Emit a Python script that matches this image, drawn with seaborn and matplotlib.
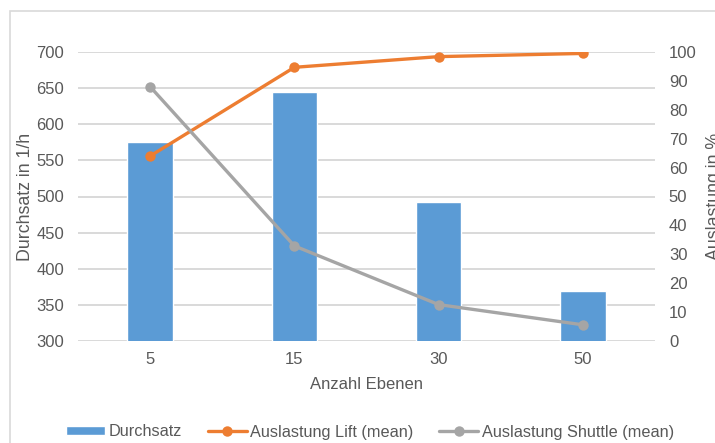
import matplotlib
matplotlib.use("Agg")
import matplotlib.pyplot as plt
import seaborn as sns
import pandas as pd
import numpy as np
from matplotlib.patches import Rectangle

# Anzahl Ebenen (categories)
ebenen = ["5", "15", "30", "50"]
# Durchsatz in 1/h (bars, left axis)
durchsatz = [575, 644, 493, 369]
# Auslastung in % (lines, right axis)
auslastung_lift = [64.0, 94.7, 98.4, 99.5]
auslastung_shuttle = [88.0, 32.9, 12.6, 5.6]

sns.set_theme(style="white")
plt.rcParams["font.family"] = ["Liberation Sans", "DejaVu Sans"]

text_color = "#595959"
grid_color = "#d9d9d9"
blue, orange, grey = "#5B9BD5", "#ED7D31", "#A5A5A5"
fs = 12

W, H = 715, 443
fig = plt.figure(figsize=(W / 100, H / 100), dpi=100)
fig.patch.set_facecolor("white")

# light frame around the chart area
fig.patches.append(Rectangle((10 / W, -0.05), 1.1, 1 - 11 / H + 0.05,
                             transform=fig.transFigure, fill=False,
                             edgecolor=grid_color, linewidth=1.2, zorder=0))

ax = fig.add_axes([78 / W, 1 - 341 / H, 577 / W, 289 / H])
df = pd.DataFrame({"Ebenen": ebenen, "Durchsatz": durchsatz,
                   "Lift": auslastung_lift, "Shuttle": auslastung_shuttle})

sns.barplot(data=df, x="Ebenen", y="Durchsatz", color=blue, saturation=1,
            width=0.314, ax=ax, label="Durchsatz", zorder=2)
ax.set_ylim(300, 700)
ax.set_yticks(np.arange(300, 701, 50))
ax.yaxis.grid(True, color=grid_color, linewidth=1.4, zorder=0)
ax.set_axisbelow(True)

ax2 = ax.twinx()
pos = np.arange(len(ebenen))
sns.lineplot(x=pos, y=df["Lift"], ax=ax2, color=orange, marker="o",
             linewidth=2.4, markersize=7.5, markeredgewidth=0,
             label="Auslastung Lift (mean)")
sns.lineplot(x=pos, y=df["Shuttle"], ax=ax2, color=grey, marker="o",
             linewidth=2.4, markersize=7.5, markeredgewidth=0,
             label="Auslastung Shuttle (mean)")
ax2.set_ylim(0, 100)
ax2.set_yticks(np.arange(0, 101, 10))
ax.set_xlim(-0.5, len(ebenen) - 0.5)

for a in (ax, ax2):
    for s in a.spines.values():
        s.set_visible(False)
    a.tick_params(axis="both", length=0, colors=text_color, labelsize=fs)
ax.tick_params(axis="y", pad=10)
ax2.tick_params(axis="y", pad=10)
ax.tick_params(axis="x", pad=8)

ax.set_xlabel("Anzahl Ebenen", color=text_color, fontsize=fs, labelpad=7)
ax.set_ylabel("Durchsatz in 1/h", color=text_color, fontsize=12.8, labelpad=2)
ax2.set_ylabel("Auslastung in %", color=text_color, fontsize=12.8,
               rotation=90, labelpad=7)

h1, l1 = ax.get_legend_handles_labels()
h2, l2 = ax2.get_legend_handles_labels()
for a in (ax, ax2):
    if a.get_legend() is not None:
        a.get_legend().remove()
leg = fig.legend(h1 + h2, l1 + l2, loc="center", ncol=3,
                 bbox_to_anchor=(370 / W, 1 - 432 / H), frameon=False,
                 fontsize=11.7, handlelength=2.4, handleheight=0.5,
                 handletextpad=0.2, columnspacing=1.6)
for t in leg.get_texts():
    t.set_color(text_color)

fig.savefig("out.png", dpi=100, facecolor="white")
